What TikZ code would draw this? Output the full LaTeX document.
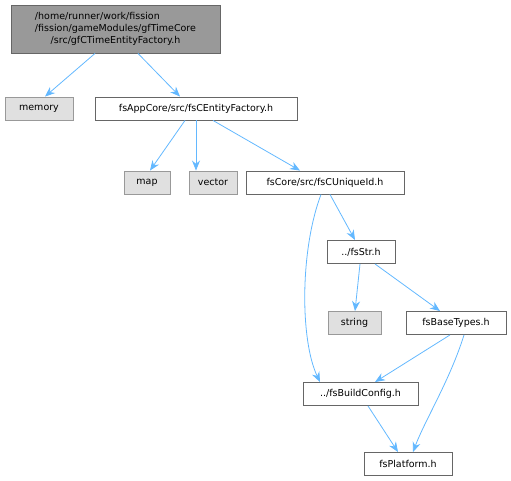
\documentclass[tikz,border=0pt]{standalone}
\usepackage{fontspec}
\setmainfont{DejaVu Sans}
\usetikzlibrary{positioning,arrows.meta}

\definecolor{edgeblue}{HTML}{63B8FF}
\definecolor{boxgray}{HTML}{999999}
\definecolor{rimgray}{HTML}{666666}
\definecolor{sysgray}{HTML}{E0E0E0}

\begin{document}
\begin{tikzpicture}[x=1pt, y=-1pt,
		every node/.style={font=\fontsize{9.5}{12}\selectfont, inner xsep=4pt, minimum height=23pt},
		hdr/.style={draw=rimgray, fill=white, line width=0.9pt},
		sys/.style={draw=boxgray, fill=sysgray, line width=0.9pt},
		dep/.style={-{Stealth[length=10pt, width=8pt]}, draw=edgeblue, line width=0.8pt}]
		\useasboundingbox (0,0) rectangle (511,481);
		
		\node[draw=rimgray, fill=boxgray, line width=0.9pt, align=center, minimum width=209pt, minimum height=48pt] (tec) at (115.5,29) {\rlap{/home/runner/work/fission}\phantom{/fission/gameModules/gfTimeCore}\\/fission/gameModules/gfTimeCore\\/src/gfCTimeEntityFactory.h};
		
		\node[sys, minimum width=68pt] (mem) at (39,108.5) {memory};
		\node[hdr, minimum width=202pt] (ef) at (196,108.5) {fsAppCore/src/fsCEntityFactory.h};
		
		\node[sys, minimum width=46pt] (map) at (147,182.5) {map};
		\node[sys, minimum width=48pt] (vec) at (213,182.5) {vector};
		\node[hdr, minimum width=158pt] (uid) at (325,182.5) {fsCore/src/fsCUniqueId.h};
		
		\node[hdr, minimum width=68pt] (str) at (361,252) {../fsStr.h};
		\node[sys, minimum width=53pt] (string) at (354.5,323) {string};
		\node[hdr, minimum width=100pt] (bt) at (456,323) {fsBaseTypes.h};
		
		\node[hdr, minimum width=115pt] (bc) at (360.5,394) {../fsBuildConfig.h};
		\node[hdr, minimum width=88pt] (plat) at (408,464) {fsPlatform.h};
		
		\draw[dep] (tec.south -| 95,0) -- (mem.north -| 45,0);
		\draw[dep] (tec.south -| 138,0) -- (ef.north -| 180,0);
		\draw[dep] (ef.south -| 185,0) -- (map.north -| 150,0);
		\draw[dep] (ef.south -| 196,0) -- (vec.north -| 196,0);
		\draw[dep] (ef.south -| 213,0) -- (uid.north -| 300,0);
		\draw[dep] (uid.south -| 330,0) -- (str.north -| 355,0);
		\draw[dep] (uid.south -| 321,0) .. controls (300,250) and (300,340) .. (bc.north -| 320,0);
		\draw[dep] (str.south -| 360,0) -- (string.north -| 355,0);
		\draw[dep] (str.south -| 375,0) -- (bt.north -| 440,0);
		\draw[dep] (bt.south -| 450,0) -- (bc.north -| 375,0);
		\draw[dep] (bt.south -| 464,0) .. controls (450,380) and (425,420) .. (plat.north -| 413,0);
		\draw[dep] (bc.south -| 368,0) -- (plat.north -| 398,0);
	\end{tikzpicture}
\end{document}
